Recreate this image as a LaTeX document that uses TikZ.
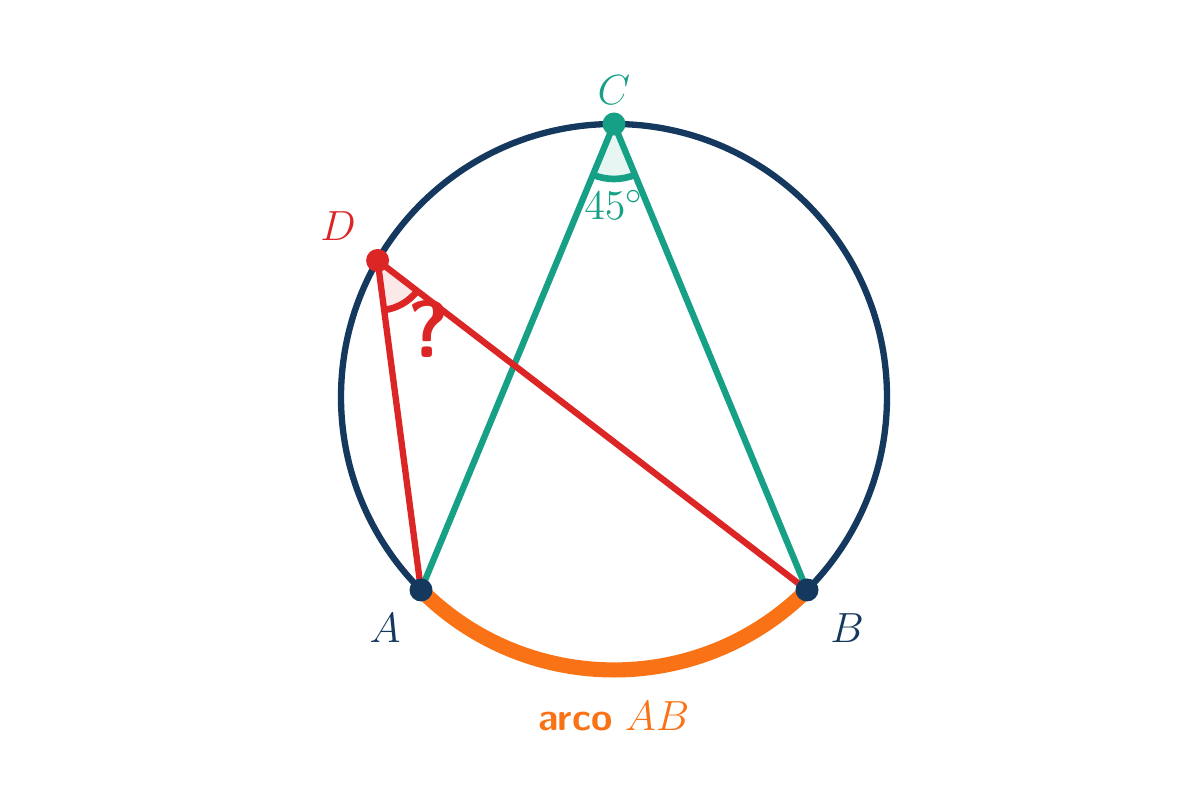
\documentclass[tikz,border=0pt]{standalone}
\usepackage{tikz}

\definecolor{azul}{RGB}{20,56,94}
\definecolor{verde}{RGB}{22,160,133}
\definecolor{rojo}{RGB}{220,38,38}
\definecolor{naranja}{RGB}{249,115,22}

\begin{document}
\begin{tikzpicture}[punto/.style = {circle,inner sep=0pt,minimum size=0.23cm},
	etiqueta/.style = {font=\fontsize{13}{15}\selectfont},]
		
		\useasboundingbox (0,0) rectangle (12,8);
		
		\coordinate (O) at (6.14,4.03);
		\coordinate (A) at (4.21,2.10);
		\coordinate (B) at (8.07,2.10);
		\coordinate (C) at (6.14,6.76);
		\coordinate (D) at (3.776,5.395);
		
		\draw[azul, line width=1.8pt] (O) circle (2.73);
		\draw[naranja, line width=4.3pt] (A) arc[start angle=225, end angle=315, radius=2.73];
		
		\fill[verde!10] (C) -- ++(-112.5:0.55) arc[start angle=-112.5, end angle=-67.5, radius=0.55] -- cycle;
		\fill[rojo!10] (D) -- ++(-82.4:0.5) arc[start angle=-82.4, end angle=-37.4, radius=0.5] -- cycle;
		\draw[verde, line width=1.9pt] (C) ++(-112.5:0.55) arc[start angle=-112.5, end angle=-67.5, radius=0.55];
		\draw[rojo, line width=1.9pt] (D) ++(-82.4:0.5) arc[start angle=-82.4, end angle=-37.4, radius=0.5];
		
		\draw[verde, line width=1.8pt] (A) -- (C) -- (B);
		\draw[rojo, line width=1.8pt] (A) -- (D) -- (B);
		
		\node[punto, fill=azul] (pA) at (A) {};
		\node[punto, fill=azul] (pB) at (B) {};
		\node[punto, fill=verde] (pC) at (C) {};
		\node[punto, fill=rojo] (pD) at (D) {};
		
		\node[etiqueta, text=azul] (lA) at (3.85,1.72) {$A$};
		\node[etiqueta, text=azul] (lB) at (8.47,1.72) {$B$};
		\node[etiqueta, text=verde] (lC) at (6.14,7.10) {$C$};
		\node[etiqueta, text=rojo] (lD) at (3.38,5.74) {$D$};
		\node[text=verde, font=\fontsize{12.5}{15}\selectfont] (ang) at (6.14,5.95) {$45^\circ$};
		\node[text=rojo, font=\fontsize{23}{26}\selectfont\sffamily\bfseries] (preg) at (4.28,4.71) {?};
		\node[text=naranja] (arco) at (6.14,0.84) {\fontsize{11}{13}\selectfont\textsf{\bfseries arco}\ \fontsize{12}{14}\selectfont$AB$};
		
	\end{tikzpicture}
\end{document}
